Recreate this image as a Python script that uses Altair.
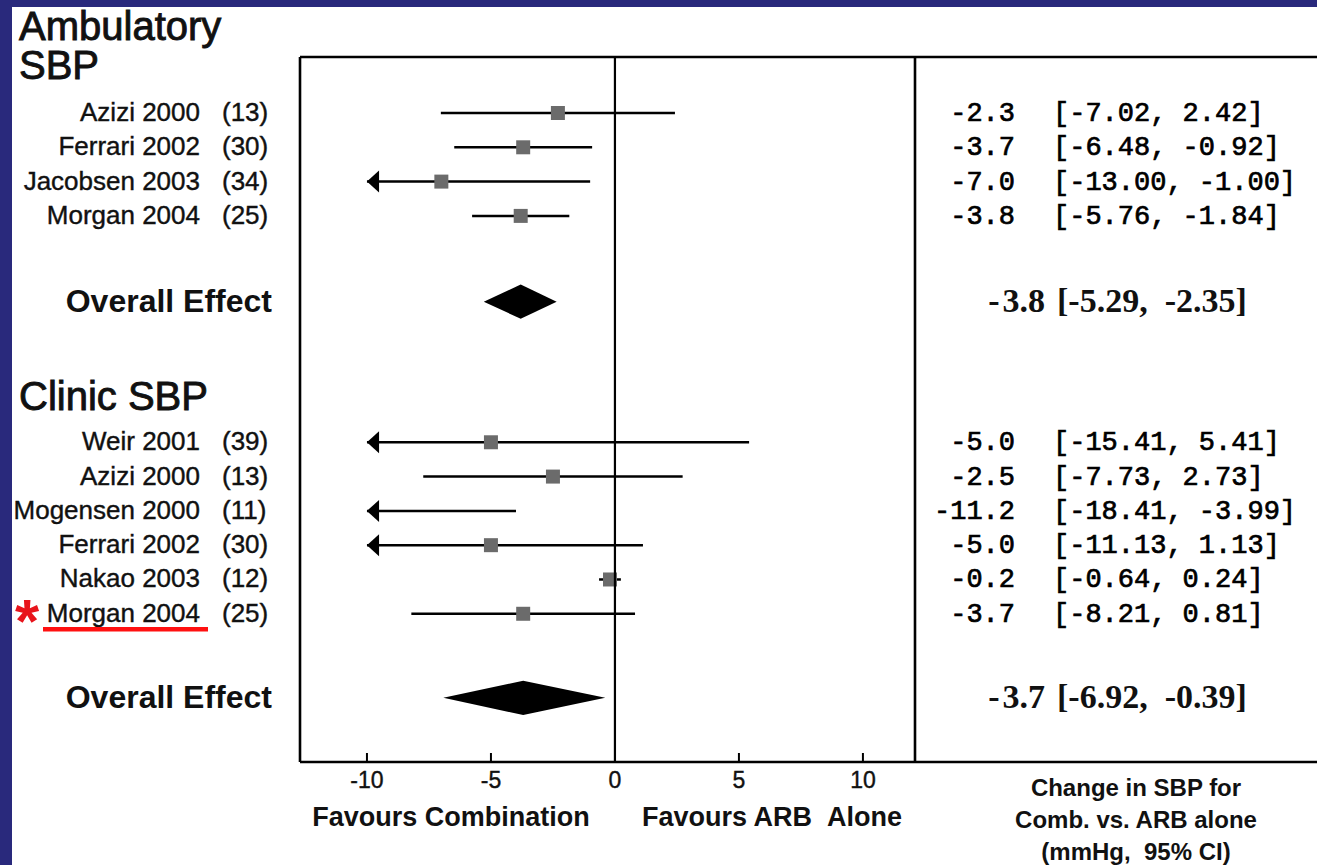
import altair as alt
import pandas as pd

# ---- data -------------------------------------------------------------
amb_studies = ["Azizi 2000", "Ferrari 2002", "Jacobsen 2003", "Morgan 2004"]
amb_n = [13, 30, 34, 25]
amb_est = [-2.3, -3.7, -7.0, -3.8]
amb_lo = [-7.02, -6.48, -13.00, -5.76]
amb_hi = [2.42, -0.92, -1.00, -1.84]
amb_overall = [-3.8, -5.29, -2.35]

clinic_studies = ["Weir 2001", "Azizi 2000", "Mogensen 2000", "Ferrari 2002",
                  "Nakao 2003", "Morgan 2004"]
clinic_n = [39, 13, 11, 30, 12, 25]
clinic_est = [-5.0, -2.5, -11.2, -5.0, -0.2, -3.7]
clinic_lo = [-15.41, -7.73, -18.41, -11.13, -0.64, -8.21]
clinic_hi = [5.41, 2.73, -3.99, 1.13, 0.24, 0.81]
clinic_overall = [-3.7, -6.92, -0.39]

tick_values = [-10, -5, 0, 5, 10]
CLIP = -10  # intervals running past this are drawn with an arrow head

# ---- layout -----------------------------------------------------------
W, H = 1017, 705          # plot box incl. the right-hand table column
FOREST_W = 615            # width of the forest panel
ROW_PX = 34.3
Y_TOP = -56 / ROW_PX
Y_BOTTOM = Y_TOP + H / ROW_PX

XS = alt.Scale(domain=[-12.7, 12.1], range=[0, FOREST_W], nice=False, zero=False)
YS = alt.Scale(domain=[Y_TOP, Y_BOTTOM], reverse=True, nice=False, zero=False)

amb_rows = [float(i) for i in range(len(amb_studies))]
amb_overall_row = amb_rows[-1] + 2.5
clinic_header_row = 8.31
clinic_rows = [9.6 + i for i in range(len(clinic_studies))]
clinic_overall_row = clinic_rows[-1] + 2.45

studies = pd.DataFrame({
    "study": amb_studies + clinic_studies,
    "n": amb_n + clinic_n,
    "est": amb_est + clinic_est,
    "lo": amb_lo + clinic_lo,
    "hi": amb_hi + clinic_hi,
    "row": amb_rows + clinic_rows,
})
studies["lo_draw"] = studies["lo"].clip(lower=CLIP)
studies["arrow_x"] = CLIP
studies["n_label"] = studies["n"].map(lambda v: f"({v})")
studies["est_label"] = studies["est"].map(lambda v: f"{v:.1f}")
studies["ci_label"] = [f"[{a:.2f}, {b:.2f}]" for a, b in zip(studies["lo"], studies["hi"])]

overall = pd.DataFrame({
    "group": ["Ambulatory", "Clinic"],
    "est": [amb_overall[0], clinic_overall[0]],
    "lo": [amb_overall[1], clinic_overall[1]],
    "hi": [amb_overall[2], clinic_overall[2]],
    "row": [amb_overall_row, clinic_overall_row],
})
overall["label"] = "Overall Effect"
overall["est_label"] = overall["est"].map(lambda v: f"-\u200a{abs(v):.1f}")
overall["ci_label"] = [f"[{a:.2f},\u00a0\u00a0{b:.2f}]" for a, b in zip(overall["lo"], overall["hi"])]

# diamond outline: lower CI, estimate (full height), upper CI
HALF = 0.5
diamond_rows = []
for _, r in overall.iterrows():
    diamond_rows.append({"group": r["group"], "x": r["lo"], "y1": r["row"], "y2": r["row"]})
    diamond_rows.append({"group": r["group"], "x": r["est"], "y1": r["row"] - HALF, "y2": r["row"] + HALF})
    diamond_rows.append({"group": r["group"], "x": r["hi"], "y1": r["row"], "y2": r["row"]})
diamonds = pd.DataFrame(diamond_rows)

headers = pd.DataFrame({
    "text": ["Ambulatory", "SBP", "Clinic SBP"],
    "row": [Y_TOP - 0.86, Y_TOP + 0.30, clinic_header_row],
})

one = pd.DataFrame({"k": [0]})


def X(field):
    return alt.X(field, scale=XS, axis=None)


def Y(field):
    return alt.Y(field, scale=YS, axis=None)


# ---- layers -----------------------------------------------------------
panel = alt.Chart(one).mark_rect(color="white").encode(
    x=alt.value(-288), x2=alt.value(W), y=alt.value(-50), y2=alt.value(H + 110))


def frame_rule(x1, x2, y1, y2):
    return alt.Chart(one).mark_rule(color="black", strokeWidth=2.6).encode(
        x=alt.value(x1), x2=alt.value(x2), y=alt.value(y1), y2=alt.value(y2))


frame = [
    frame_rule(0, W, 0, 0),
    frame_rule(0, W, H, H),
    frame_rule(0, 0, 0, H),
    frame_rule(FOREST_W, FOREST_W, 0, H),
]

zero_line = alt.Chart(pd.DataFrame({"z": [0]})).mark_rule(
    color="black", strokeWidth=2.2).encode(
    x=X("z:Q"), y=alt.value(0), y2=alt.value(H))

tick_df = pd.DataFrame({"t": tick_values})
tick_df["label"] = tick_df["t"].map(str)
ticks = alt.Chart(tick_df).transform_filter(alt.datum.t != 0).mark_rule(
    color="black", strokeWidth=2).encode(
    x=X("t:Q"), y=alt.value(H), y2=alt.value(H - 9))
tick_labels = alt.Chart(tick_df).mark_text(
    align="center", baseline="middle", font="Liberation Sans", fontSize=23,
    color="#111", stroke="#111", strokeWidth=0.4).encode(
    x=X("t:Q"), y=alt.value(H + 19), text="label:N")

ci_lines = alt.Chart(studies).mark_rule(color="black", strokeWidth=2.5).encode(
    x=X("lo_draw:Q"), x2="hi:Q", y=Y("row:Q"))

arrows = alt.Chart(studies).transform_filter(
    alt.datum.lo < CLIP).mark_point(
    shape="M-1,0L0.1,-1L0.1,1Z", size=484, filled=True, opacity=1,
    color="black", xOffset=11).encode(x=X("arrow_x:Q"), y=Y("row:Q"))

squares = alt.Chart(studies).transform_filter(
    alt.datum.est >= CLIP).mark_square(
    size=196, color="#6b6b6b", opacity=1).encode(x=X("est:Q"), y=Y("row:Q"))

diamond = alt.Chart(diamonds).mark_area(color="black", orient="vertical").encode(
    x=X("x:Q"), y=Y("y1:Q"), y2="y2:Q", detail="group:N")

LABEL_FONT = "Liberation Sans"

names = alt.Chart(studies).mark_text(
    align="right", baseline="middle", font=LABEL_FONT, fontSize=26, color="#111",
    stroke="#111", strokeWidth=0.4
).encode(x=alt.value(-100), y=Y("row:Q"), text="study:N")

counts = alt.Chart(studies).mark_text(
    align="left", baseline="middle", font=LABEL_FONT, fontSize=26, color="#111",
    stroke="#111", strokeWidth=0.4
).encode(x=alt.value(-78), y=Y("row:Q"), text="n_label:N")

overall_names = alt.Chart(overall).mark_text(
    align="right", baseline="middle", font=LABEL_FONT, fontSize=32,
    fontWeight="bold", color="#111"
).encode(x=alt.value(-28), y=Y("row:Q"), text="label:N")

header_text = alt.Chart(headers).mark_text(
    align="left", baseline="middle", font=LABEL_FONT, fontSize=40, color="#111",
    stroke="#111", strokeWidth=0.9
).encode(x=alt.value(-281), y=Y("row:Q"), text="text:N")

est_text = alt.Chart(studies).mark_text(
    align="right", baseline="middle", font="Liberation Mono", fontSize=27,
    color="black", stroke="black", strokeWidth=0.7
).encode(x=alt.value(715), y=Y("row:Q"), text="est_label:N")

ci_text = alt.Chart(studies).mark_text(
    align="left", baseline="middle", font="Liberation Mono", fontSize=27,
    color="black", stroke="black", strokeWidth=0.7
).encode(x=alt.value(753), y=Y("row:Q"), text="ci_label:N")

ov_est_text = alt.Chart(overall).mark_text(
    align="right", baseline="middle", font="Liberation Serif", fontSize=34,
    fontWeight="bold", color="#111"
).encode(x=alt.value(745), y=Y("row:Q"), text="est_label:N")

ov_ci_text = alt.Chart(overall).mark_text(
    align="left", baseline="middle", font="Liberation Serif", fontSize=34,
    fontWeight="bold", color="#111"
).encode(x=alt.value(757), y=Y("row:Q"), text="ci_label:N")


def bold_note(text, x, y, size):
    return alt.Chart(one).mark_text(
        align="center", baseline="middle", font=LABEL_FONT, fontSize=size,
        fontWeight="bold", color="#111", text=text
    ).encode(x=alt.value(x), y=alt.value(y))


favours = [
    bold_note("Favours Combination", 151, 761, 27),
    bold_note("Favours ARB\u00a0\u00a0Alone", 472, 761, 27),
]

caption_lines = ["Change in SBP for", "Comb. vs. ARB alone", "(mmHg,\u00a0\u00a095% CI)"]
caption = [bold_note(line, 836, 732 + 32 * i, 24) for i, line in enumerate(caption_lines)]

# highlighted study
highlight = studies[studies["row"] == clinic_rows[-1]].copy()
highlight["star"] = "*"
highlight["under"] = highlight["row"] + 15.5 / ROW_PX
star = alt.Chart(highlight).mark_text(
    align="center", baseline="middle", font=LABEL_FONT, fontSize=62,
    fontWeight="bold", color="#e8141b", dy=9
).encode(x=alt.value(-273), y=Y("row:Q"), text="star:N")
underline = alt.Chart(highlight).mark_rule(color="#ff1010", strokeWidth=4.5).encode(
    x=alt.value(-257), x2=alt.value(-92), y=Y("under:Q"))

chart = alt.layer(
    panel, diamond, ci_lines, arrows, squares, zero_line, ticks, tick_labels,
    *frame,
    names, counts, overall_names, header_text, est_text, ci_text,
    ov_est_text, ov_ci_text, *favours, *caption, star, underline,
).properties(
    width=W, height=H,
    autosize=alt.AutoSizeParams(type="none"),
    padding={"left": 300, "top": 57, "right": 0, "bottom": 103},
    background="#29297c",
).configure_view(stroke=None)

chart.save("out.html", embed_options={"renderer": "svg", "actions": False})
